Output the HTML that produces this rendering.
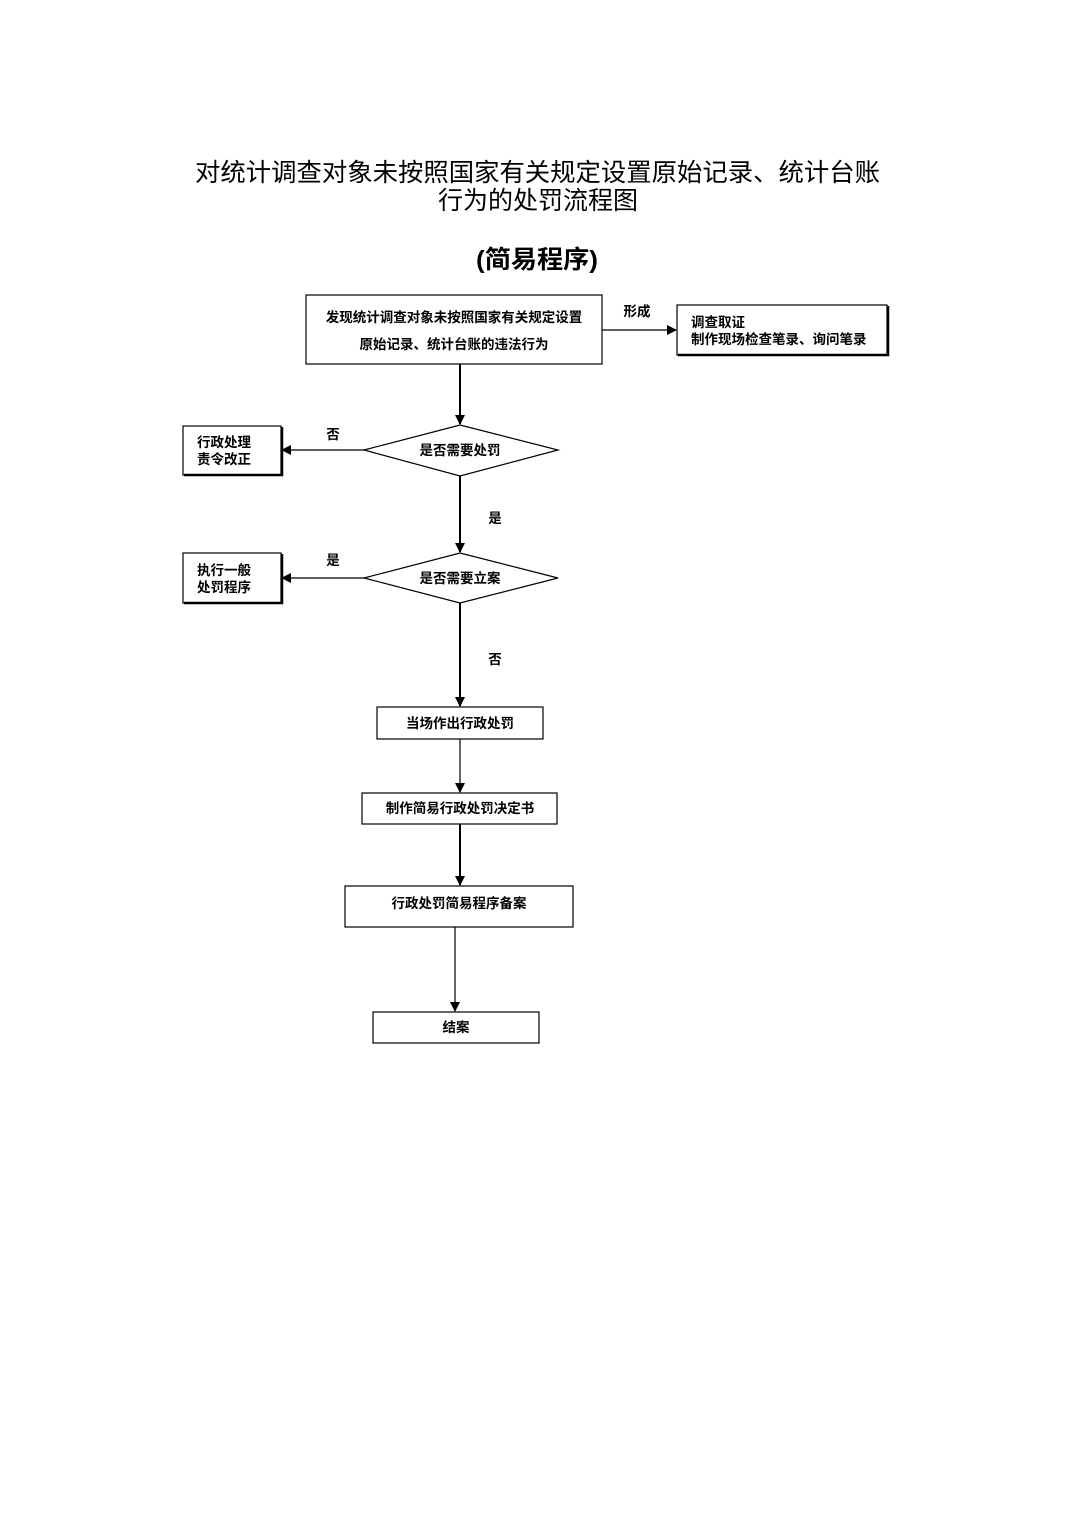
<!DOCTYPE html>
<html><head><meta charset="utf-8"><style>
body{margin:0;background:#fff;}
svg text{font-family:"Liberation Sans","Noto Sans CJK SC",sans-serif;fill:#000;}
.b{font-weight:bold;font-size:13.5px;}
</style></head><body>
<svg width="1075" height="1520" viewBox="0 0 1075 1520" xmlns="http://www.w3.org/2000/svg">
<defs><marker id="a" markerWidth="10" markerHeight="10" refX="9" refY="5" orient="auto" markerUnits="userSpaceOnUse"><path d="M0,0 L10,5 L0,10 z" fill="#000"/></marker></defs>
<text x="195" y="181" font-size="25" textLength="685" lengthAdjust="spacingAndGlyphs">对统计调查对象未按照国家有关规定设置原始记录、统计台账</text>
<text x="438" y="209" font-size="25" textLength="200" lengthAdjust="spacingAndGlyphs">行为的处罚流程图</text>
<text x="476" y="268" font-size="25" font-weight="bold" textLength="122" lengthAdjust="spacingAndGlyphs">(简易程序)</text>
<g fill="none" stroke="#000" stroke-width="1.2">
<rect x="306" y="295" width="296" height="69"/>
<rect x="677" y="305" width="210" height="50"/>
<path d="M678,355 H888 V306" stroke-width="2.5"/>
<rect x="183" y="426" width="98" height="49"/>
<path d="M184,475 H282 V427" stroke-width="2.5"/>
<rect x="183" y="553" width="98" height="50"/>
<path d="M184,603 H282 V554" stroke-width="2.5"/>
<polygon points="364,450 460,425 558,450 460,476"/>
<polygon points="364,578 460,553 558,578 460,603"/>
<rect x="377" y="707" width="166" height="32"/>
<rect x="362" y="793" width="195" height="31"/>
<rect x="345" y="886" width="228" height="41"/>
<rect x="373" y="1012" width="166" height="31"/>
</g>
<g stroke="#000" stroke-width="2" fill="none">
<line x1="602" y1="330" x2="676" y2="330" stroke-width="1.2" marker-end="url(#a)"/>
<line x1="460" y1="364" x2="460" y2="424" marker-end="url(#a)"/>
<line x1="364" y1="450" x2="282" y2="450" stroke-width="1.2" marker-end="url(#a)"/>
<line x1="460" y1="476" x2="460" y2="552" marker-end="url(#a)"/>
<line x1="364" y1="578" x2="282" y2="578" stroke-width="1.2" marker-end="url(#a)"/>
<line x1="460" y1="603" x2="460" y2="706" marker-end="url(#a)"/>
<line x1="460" y1="739" x2="460" y2="792" stroke-width="1.2" marker-end="url(#a)"/>
<line x1="460" y1="824" x2="460" y2="885" marker-end="url(#a)"/>
<line x1="455" y1="927" x2="455" y2="1011" stroke-width="1.2" marker-end="url(#a)"/>
</g>
<text class="b" x="454" y="322" text-anchor="middle">发现统计调查对象未按照国家有关规定设置</text>
<text class="b" x="454" y="349" text-anchor="middle">原始记录、统计台账的违法行为</text>
<text class="b" x="637" y="316" text-anchor="middle">形成</text>
<text class="b" x="691" y="327">调查取证</text>
<text class="b" x="691" y="344">制作现场检查笔录、询问笔录</text>
<text class="b" x="197" y="447">行政处理</text>
<text class="b" x="197" y="464">责令改正</text>
<text class="b" x="333" y="439" text-anchor="middle">否</text>
<text class="b" x="460" y="455" text-anchor="middle">是否需要处罚</text>
<text class="b" x="495" y="523" text-anchor="middle">是</text>
<text class="b" x="197" y="575">执行一般</text>
<text class="b" x="197" y="592">处罚程序</text>
<text class="b" x="333" y="565" text-anchor="middle">是</text>
<text class="b" x="460" y="583" text-anchor="middle">是否需要立案</text>
<text class="b" x="495" y="664" text-anchor="middle">否</text>
<text class="b" x="460" y="728" text-anchor="middle">当场作出行政处罚</text>
<text class="b" x="460" y="813" text-anchor="middle">制作简易行政处罚决定书</text>
<text class="b" x="459" y="908" text-anchor="middle">行政处罚简易程序备案</text>
<text class="b" x="456" y="1032" text-anchor="middle">结案</text>
</svg>
</body></html>
